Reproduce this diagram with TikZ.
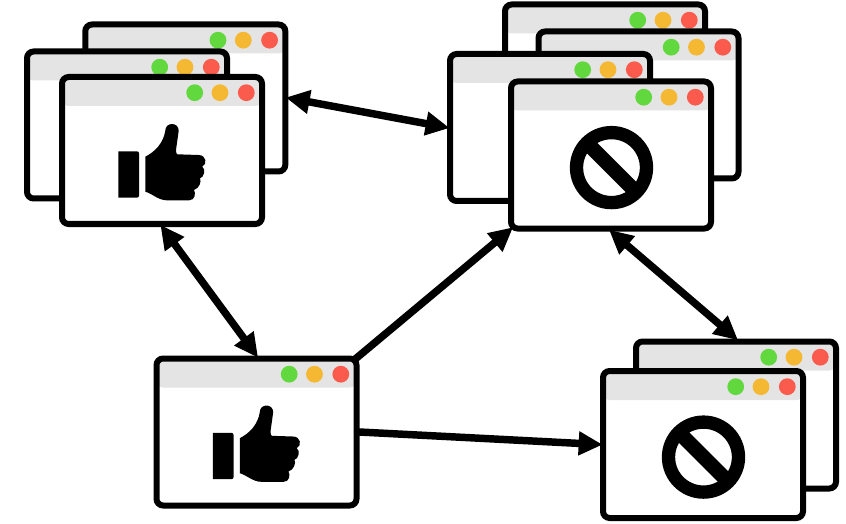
\documentclass[tikz,border=0pt]{standalone}
\usepackage{tikz}
\usetikzlibrary{arrows.meta}

\definecolor{bargray}{HTML}{E4E4E4}
\definecolor{dotgreen}{HTML}{62D83F}
\definecolor{dotorange}{HTML}{F5B833}
\definecolor{dotred}{HTML}{FA5B4C}

% window with its title bar and three dots
\newcommand{\window}[2]{
	\node (#1) at (#2) [window] {};
	\node (#1g) at ([shift={(32.7,-57.8)}]#1.center) [dot, fill=dotgreen]  {};
	\node (#1o) at ([shift={(58,-57.8)}]#1.center)   [dot, fill=dotorange] {};
	\node (#1r) at ([shift={(84.3,-57.8)}]#1.center) [dot, fill=dotred]    {};
}
% hand and cuff, drawn around the centre of a window
\newcommand{\thumbup}[1]{
	\begin{scope}[shift={(#1.center)}]
		\fill (-43.6,0.8) [rounded corners=1.5pt] -- (-23,0.8) -- (-23,47.2) [sharp corners] -- (-43.6,47.2) -- cycle;
		\fill (-16.7,6.2) .. controls (-7,1.2) and (1.3,-7.2) .. (3.3,-19.8)
			.. controls (3.3,-28.7) and (16.7,-28.7) .. (16.7,-19.8)
			-- (14,-0.5) .. controls (14,2) and (14.5,3.8) .. (15.3,3.8)
			-- (36.3,4.5) .. controls (44.7,4.5) and (45.3,13.8) .. (40.3,16.2)
			.. controls (44,18.5) and (42,27.2) .. (38,27.8)
			.. controls (39.7,31.2) and (37.3,37.8) .. (32,39.5)
			.. controls (34,42.8) and (33,49.8) .. (27.3,49.8)
			-- (4.7,49.8) .. controls (-3.7,49.8) and (-10.3,42.8) .. (-16.7,41.2) -- cycle;
	\end{scope}
}
% ring with a bar across it
\newcommand{\nosign}[1]{
	\node (#1n) at ([shift={(0.5,12.6)}]#1.center) [ring] {};
	\draw [bar] (#1n.north west) -- (#1n.south east);
}

\begin{document}
\begin{tikzpicture}
[
	              x = 0.75pt,
	              y = -0.75pt,
	              > = {Stealth[inset=0pt,length=18pt,width=17pt]},
	 window/.style = { draw=black, fill=white, line width=4.5pt, rounded corners=5pt,
	                   minimum width=150pt, minimum height=110.25pt, inner sep=0pt,
	                   path picture={\fill [bargray] (path picture bounding box.north west)
	                   rectangle ([yshift=-21.75pt]path picture bounding box.north east);} },
	    dot/.style = { circle, draw=none, minimum size=12.6pt, inner sep=0pt },
	   ring/.style = { circle, draw=black, line width=10pt, minimum size=52.5pt, inner sep=0pt },
	    bar/.style = { line width=11pt, shorten <=6pt, shorten >=6pt },
	   link/.style = { line width=5.6pt, shorten <=-2pt, shorten >=-2pt }
]
	\useasboundingbox (0,0) rectangle (846,524);

	% thumbs up, three windows
	\window{a1}{185.3,98}
	\window{a2}{127,125}
	\window{a3}{162,150.5}
	\thumbup{a3}

	% blocked, four windows
	\window{b1}{605,78}
	\window{b2}{638.5,105}
	\window{b3}{550,127.5}
	\window{b4}{611,155}
	\nosign{b4}

	% thumbs up, one window
	\window{s}{256.5,432}
	\thumbup{s}

	% blocked, two windows
	\window{d1}{736,415}
	\window{d2}{703,444.5}
	\nosign{d2}

	\draw [<->, link] (a1.east) -- (b3.west);
	\draw [<->, link] (a3.south) -- (s.north);
	\draw [->, link, shorten <=-4pt, shorten >=-5pt] (s.north east) -- (b4.south west);
	\draw [->, link] (s.east) -- (d2.west);
	\draw [<->, link] (b4.south) -- (d1.north);

\end{tikzpicture}
\end{document}
